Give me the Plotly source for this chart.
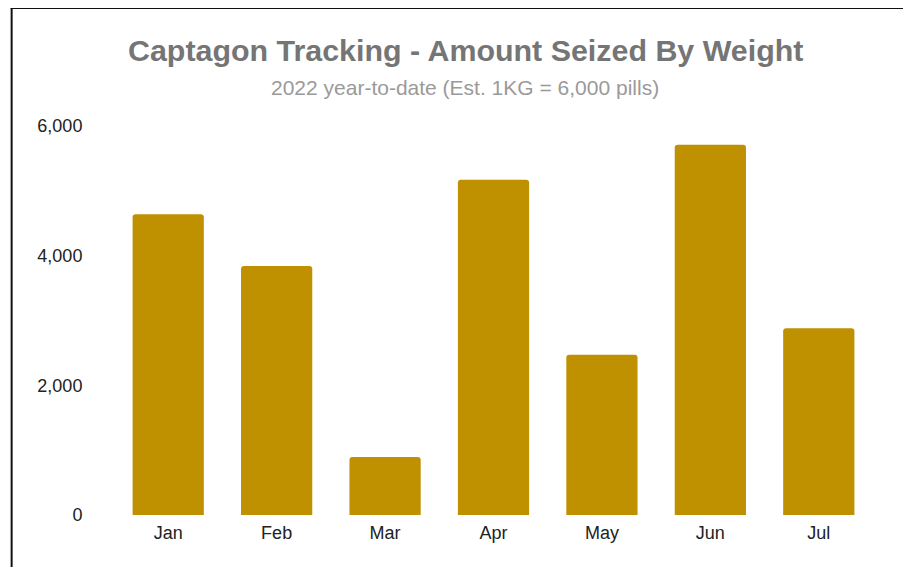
import plotly.graph_objects as go

months = ["Jan", "Feb", "Mar", "Apr", "May", "Jun", "Jul"]
seized_kg = [4640, 3840, 895, 5170, 2470, 5710, 2880]
y_ticks = [0, 2000, 4000, 6000]
y_tick_labels = ["0", "2,000", "4,000", "6,000"]

W, H = 911, 567
OFF = 8  # page body margin
# plot area in page pixels
PX0, PX1, PY0, PY1 = 113.5, 873.5, 126, 515
L, R = PX0 - OFF, W - (PX1 - OFF)
T, B = PY0 - OFF, H - (PY1 - OFF)
pw, ph = PX1 - PX0, PY1 - PY0

def px(x):
    return (x - PX0) / pw

def py(y):
    return (PY1 - y) / ph

fig = go.Figure(go.Bar(
    x=months, y=seized_kg,
    marker=dict(color="#BF9000", cornerradius=3, line=dict(width=0)),
    width=0.657,
))

fig.update_layout(
    width=W, height=H,
    margin=dict(l=L, r=R, t=T, b=B, autoexpand=False),
    paper_bgcolor="white", plot_bgcolor="white",
    showlegend=False,
    font=dict(family="Liberation Sans, Arial, sans-serif", color="#222222", size=18),
    xaxis=dict(showgrid=False, zeroline=False, showline=False,
               ticks="outside", ticklen=1, tickcolor="rgba(0,0,0,0)",
               tickfont=dict(size=18, color="#222222")),
    yaxis=dict(range=[0, 6000], showgrid=False, zeroline=False, showline=False,
               tickvals=y_ticks, ticktext=y_tick_labels,
               ticks="outside", ticklen=27, tickcolor="rgba(0,0,0,0)",
               tickfont=dict(size=18, color="#222222")),
    annotations=[
        dict(text="<b>Captagon Tracking - Amount Seized By Weight</b>",
             xref="paper", yref="paper", x=px(465), y=py(50),
             xanchor="center", yanchor="middle", showarrow=False,
             font=dict(size=30.4, color="#757575")),
        dict(text="2022 year-to-date (Est. 1KG = 6,000 pills)",
             xref="paper", yref="paper", x=px(465), y=py(88),
             xanchor="center", yanchor="middle", showarrow=False,
             font=dict(size=21, color="#9a9a9a")),
    ],
    shapes=[
        dict(type="line", xref="paper", yref="paper",
             x0=px(10), x1=px(925), y0=py(8), y1=py(8),
             line=dict(color="#111111", width=2)),
        dict(type="line", xref="paper", yref="paper",
             x0=px(11), x1=px(11), y0=py(7), y1=py(580),
             line=dict(color="#111111", width=2)),
    ],
)

fig.write_html("out.html")
